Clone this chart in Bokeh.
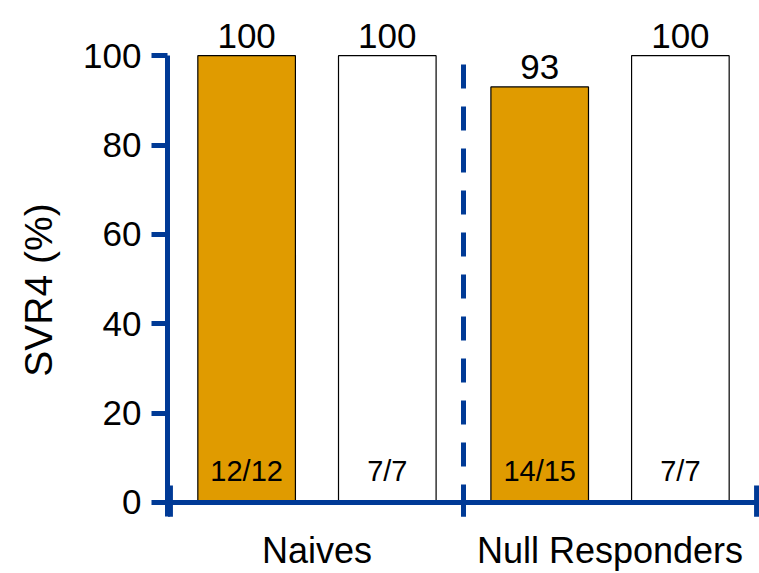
from bokeh.plotting import figure
from bokeh.models import FactorRange, Range1d, FixedTicker, ColumnDataSource
from bokeh.transform import dodge
from bokeh.core.properties import value
from bokeh.embed import file_html
from bokeh.resources import INLINE

# SVR4 rates per patient population, two treatment arms
groups = ["Naives", "Null Responders"]
arm1_pct = [100, 93]
arm2_pct = [100, 100]
arm1_ratio = ["12/12", "14/15"]
arm2_ratio = ["7/7", "7/7"]
y_ticks = [0, 20, 40, 60, 80, 100]

NAVY = "#003A96"
ORANGE = "#E09B00"
FONT = "Liberation Sans"

src = ColumnDataSource(dict(
    group=groups,
    arm1=arm1_pct,
    arm2=arm2_pct,
    arm1_lbl=[str(v) for v in arm1_pct],
    arm2_lbl=[str(v) for v in arm2_pct],
    arm1_n=arm1_ratio,
    arm2_n=arm2_ratio,
))

p = figure(
    width=759, height=573,
    x_range=FactorRange(factors=groups, range_padding=0.01, range_padding_units="absolute"),
    y_range=Range1d(-15.9, 111),
    output_backend="svg", toolbar_location=None,
    min_border_left=167, min_border_right=0, min_border_top=6, min_border_bottom=0,
)
p.outline_line_color = None
p.xgrid.grid_line_color = None
p.ygrid.grid_line_color = None
p.background_fill_color = "white"

left = dodge("group", -0.24, range=p.x_range)
right = dodge("group", 0.24, range=p.x_range)
bar_w = 0.333

p.vbar(x=left, top="arm1", bottom=0, width=bar_w, source=src,
       fill_color=ORANGE, line_color="black", line_width=1.2)
p.vbar(x=right, top="arm2", bottom=0, width=bar_w, source=src,
       fill_color="white", line_color="black", line_width=1.2)

# value labels above the bars
for xs, col, ycol in ((left, "arm1_lbl", "arm1"), (right, "arm2_lbl", "arm2")):
    p.text(x=xs, y=ycol, text=col, source=src, text_align="center",
           text_baseline="bottom", y_offset=-8, text_color="black",
           text_font=value(FONT), text_font_size="35px")

# responders / total inside the bars
for xs, col in ((left, "arm1_n"), (right, "arm2_n")):
    p.text(x=xs, y=0, text=col, source=src, text_align="center",
           text_baseline="middle", y_offset=-31, text_color="black",
           text_font=value(FONT), text_font_size="29px")

# category edges: tick marks on the baseline and a dashed divider between groups
edges = [(g, -0.5) for g in groups] + [(groups[-1], 0.5)]
divider = edges[1:-1]
p.segment(x0=edges, y0=[-3.2] * len(edges), x1=edges, y1=[3.8] * len(edges),
          line_color=NAVY, line_width=5)
p.segment(x0=divider, y0=[98] * len(divider), x1=divider, y1=[0] * len(divider),
          line_color=NAVY, line_width=5, line_dash="24 18")

# y axis
yax = p.yaxis[0]
yax.ticker = FixedTicker(ticks=y_ticks)
yax.bounds = (-3.2, 100)
yax.axis_line_color = NAVY
yax.axis_line_width = 5
yax.major_tick_line_color = NAVY
yax.major_tick_line_width = 5
yax.major_tick_out = 16
yax.major_tick_in = 0
yax.minor_tick_line_color = None
yax.major_label_text_font = FONT
yax.major_label_text_font_size = "35px"
yax.major_label_text_color = "black"
yax.major_label_standoff = 10
yax.axis_label = "SVR4 (%)"
yax.axis_label_text_font = FONT
yax.axis_label_text_font_size = "39px"
yax.axis_label_text_font_style = "normal"
yax.axis_label_text_color = "black"
yax.axis_label_standoff = 20

# x axis sits on the zero line and carries the group names
xax = p.xaxis[0]
xax.fixed_location = 0
xax.axis_line_color = NAVY
xax.axis_line_width = 5
xax.major_tick_line_color = None
xax.minor_tick_line_color = None
xax.major_tick_out = 0
xax.major_tick_in = 0
xax.major_label_text_font = FONT
xax.major_label_text_font_size = "36px"
xax.major_label_text_color = "black"
xax.major_label_standoff = 28

open("out.html", "w").write(file_html(p, INLINE))
